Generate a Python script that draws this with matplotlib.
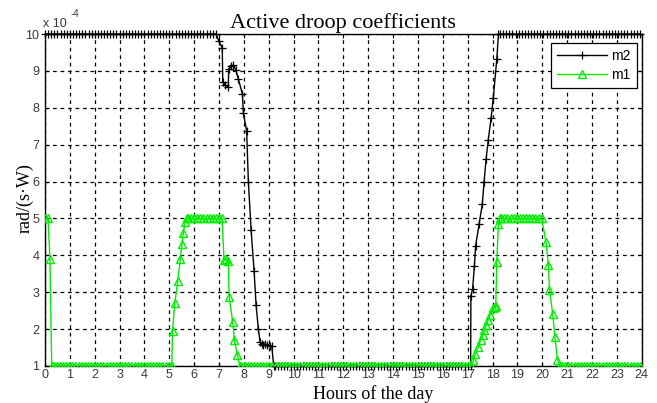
import numpy as np
import matplotlib
matplotlib.use("Agg")
import matplotlib.pyplot as plt

# hours of the day / droop coefficient values (units of 1e-4 rad/(s*W))
# flat stretches are given as (start hour, end hour, level), sampled at STEP
STEP = 0.125

m2_flats = [(0.0, 6.95, 10.0), (9.25, 17.1, 1.0), (18.3, 24.0, 10.0)]
m2_fall_t = [7.0, 7.13, 7.15, 7.25, 7.37, 7.39, 7.5, 7.57, 7.68, 7.78, 7.94,
             7.98, 8.11, 8.18, 8.29, 8.41, 8.49, 8.58, 8.65, 8.72, 8.78,
             8.85, 8.92, 9.05, 9.12, 9.2]
m2_fall_v = [9.8, 9.62, 8.71, 8.62, 8.55, 9.05, 9.12, 9.16, 9.02, 8.77, 8.37,
             7.85, 7.37, 5.99, 4.68, 3.57, 2.65, 2.01, 1.65, 1.6, 1.58,
             1.6, 1.58, 1.55, 1.54, 1.0]
m2_rise_t = [17.12, 17.13, 17.2, 17.27, 17.32, 17.46, 17.59, 17.66, 17.74,
             17.83, 17.94, 18.03, 18.17, 18.24]
m2_rise_v = [1.0, 2.9, 3.1, 3.71, 4.26, 4.84, 5.39, 5.99, 6.6,
             7.14, 7.71, 8.26, 9.31, 10.0]

m1_flats = [(0.35, 5.05, 1.0), (5.75, 7.15, 5.0), (7.9, 17.15, 1.0),
            (18.35, 20.05, 5.0), (20.8, 24.0, 1.0)]
m1_start_t = [0.0, 0.12, 0.2, 0.27]
m1_start_v = [5.0, 5.0, 3.9, 1.0]
m1_rise1_t = [5.1, 5.13, 5.22, 5.34, 5.44, 5.51, 5.56, 5.64, 5.7]
m1_rise1_v = [1.0, 1.95, 2.7, 3.3, 3.9, 4.3, 4.6, 4.9, 5.0]
m1_fall1_t = [7.2, 7.3, 7.37, 7.41, 7.55, 7.62, 7.74, 7.84]
m1_fall1_v = [3.87, 3.9, 3.85, 2.87, 2.19, 1.7, 1.29, 1.0]
m1_rise2_t = [17.23, 17.3, 17.43, 17.52, 17.61, 17.67, 17.74, 17.83, 17.9,
              18.01, 18.1, 18.13, 18.17, 18.24, 18.3]
m1_rise2_v = [1.15, 1.32, 1.51, 1.7, 1.83, 1.97, 2.1, 2.26, 2.37,
              2.56, 2.6, 2.62, 3.82, 4.86, 5.0]
m1_fall2_t = [20.15, 20.25, 20.29, 20.42, 20.51, 20.61, 20.72]
m1_fall2_v = [4.36, 3.73, 3.07, 2.42, 1.79, 1.17, 1.0]

x_ticks = list(range(0, 25))
y_ticks = list(range(1, 11))


def build(flats, pieces):
    # merge flat stretches and hand-read transition points, sorted by time
    t, v = [], []
    for a, b, lvl in flats:
        seg = np.arange(a, b + 1e-9, STEP)
        t.extend(seg)
        v.extend([lvl] * len(seg))
    for pt, pv in pieces:
        t.extend(pt)
        v.extend(pv)
    order = np.argsort(t, kind="stable")
    return np.asarray(t)[order], np.asarray(v)[order]


m2_t, m2_v = build(m2_flats, [(m2_fall_t, m2_fall_v), (m2_rise_t, m2_rise_v)])
m1_t, m1_v = build(m1_flats, [(m1_start_t, m1_start_v), (m1_rise1_t, m1_rise1_v),
                              (m1_fall1_t, m1_fall1_v), (m1_rise2_t, m1_rise2_v),
                              (m1_fall2_t, m1_fall2_v)])

W, H = 657, 403
fig = plt.figure(figsize=(W / 100, H / 100), dpi=100)
ax = fig.add_axes([45 / W, 1 - 366 / H, (641.7 - 45) / W, (366 - 34) / H])

green = "#00ee00"
ax.plot(m2_t, m2_v, color="black", lw=1, marker="+", ms=6, mew=0.9, label="m2",
        clip_on=False, zorder=3)
ax.plot(m1_t, m1_v, color=green, lw=1, marker="^", ms=5.5, mfc="none",
        mec=green, mew=1.0, label="m1", zorder=4)

ax.set_xlim(0, 24)
ax.set_ylim(1, 10)
ax.set_xticks(x_ticks)
ax.set_yticks(y_ticks)
ax.tick_params(direction="in", length=3, width=0.8, top=True, right=True,
               labelsize=9, labelcolor="#3a3a3a")
ax.tick_params(axis="x", pad=2)
ax.tick_params(axis="y", pad=4)
for lab in ax.get_xticklabels() + ax.get_yticklabels():
    lab.set_fontfamily("Liberation Sans")
ax.grid(True, color="black", linestyle=(0, (3, 3)), linewidth=0.9)
for s in ax.spines.values():
    s.set_linewidth(1)

ax.set_title("Active droop coefficients", fontfamily="Liberation Serif",
             fontsize=16, pad=4)
fig.text(373 / W, 1 - 394 / H, "Hours of the day", fontfamily="Liberation Serif",
         fontsize=13, ha="center", va="center")
fig.text(25 / W, 1 - 198 / H, "rad/(s\u00b7W)", fontfamily="Liberation Serif",
         fontsize=13, ha="center", va="center", rotation=90)
fig.text(43 / W, 1 - 24 / H, "x 10", fontfamily="Liberation Sans", fontsize=9,
         color="#3a3a3a", ha="left", va="center")
fig.text(71 / W, 1 - 14 / H, "-4", fontfamily="Liberation Sans", fontsize=7,
         color="#3a3a3a", ha="left", va="center")

leg = ax.legend(loc="upper right", bbox_to_anchor=(0.9916, 0.973), borderaxespad=0,
                fancybox=False, edgecolor="black", framealpha=1, handlelength=3.6,
                prop={"family": "Liberation Sans", "size": 10},
                borderpad=0.45, labelspacing=0.35, handletextpad=0.3)
leg.get_frame().set_linewidth(0.9)
leg.set_zorder(6)

fig.savefig("out.png", dpi=100)
